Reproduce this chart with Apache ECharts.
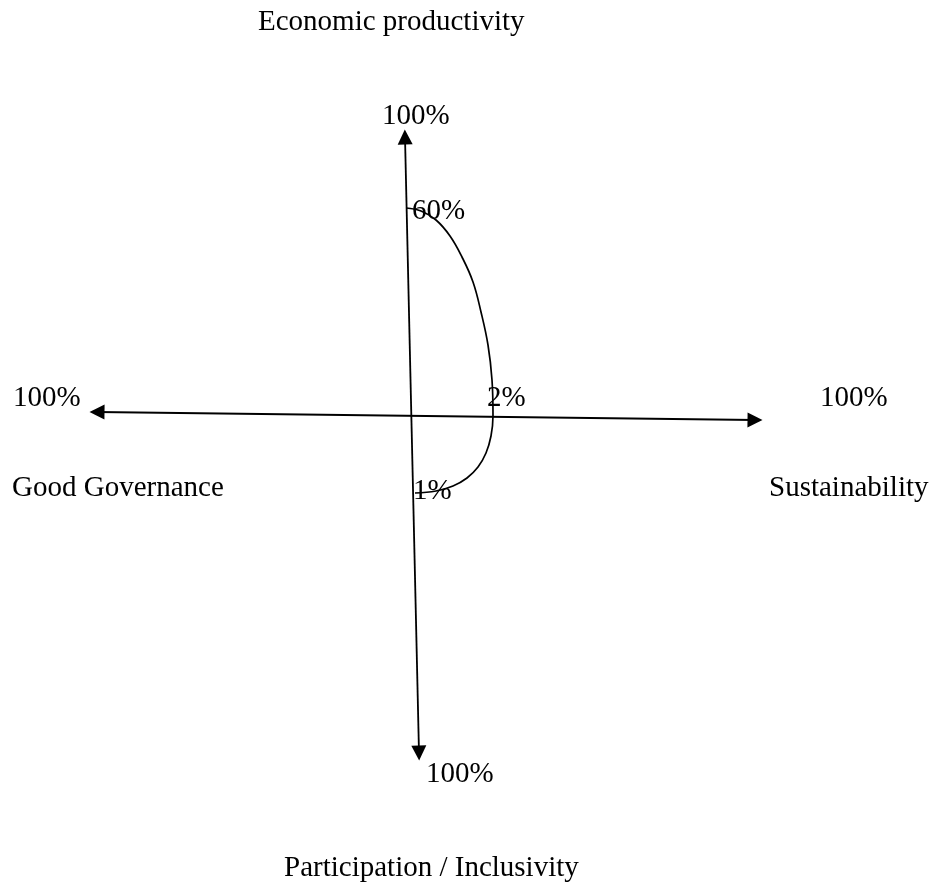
<!DOCTYPE html>
<html>
<head>
<meta charset="utf-8">
<script src="https://cdn.jsdelivr.net/npm/echarts@6/dist/echarts.min.js"></script>
<style>
html, body { margin: 0; padding: 0; background: #fff; }
#main { width: 936px; height: 888px; }
</style>
</head>
<body>
<div id="main"></div>
<script>
// the sketch lives in page pixels: x 0..936, y 0..888 (y down)
var axisNames = ['Economic productivity', 'Sustainability', 'Participation / Inclusivity', 'Good Governance'];
var axisEndLabels = ['100%', '100%', '100%', '100%'];
var curveLabels = ['60%', '2%', '1%'];

// two double headed axes
var verticalAxis = [[405, 137], [419, 753]];
var horizontalAxis = [[97, 412], [755, 420]];

// the hand drawn curve
var curvePath = [
    [406, 208], [421, 211], [436, 220], [450, 236], [462, 257],
    [473, 282], [481, 312], [488, 345], [492, 380], [493, 416],
    [491, 436], [486, 453], [478, 467], [467, 478], [453, 486],
    [436, 491], [415, 493]
];

var font = '"Liberation Serif", "Times New Roman", serif';

function label(text, x, y) {
    return {
        type: 'text',
        x: x,
        y: y,
        style: {
            text: text,
            fontFamily: font,
            fontSize: 29,
            fill: '#000',
            verticalAlign: 'middle'
        }
    };
}

var chart = echarts.init(document.getElementById('main'));
var option = {
    animation: false,
    backgroundColor: '#fff',
    grid: { left: 0, right: 0, top: 0, bottom: 0 },
    xAxis: { type: 'value', min: 0, max: 936, show: false },
    yAxis: { type: 'value', min: 0, max: 888, inverse: true, show: false },
    series: [
        {
            type: 'lines',
            coordinateSystem: 'cartesian2d',
            symbol: ['triangle', 'triangle'],
            symbolSize: [15, 15],
            lineStyle: { color: '#000', width: 1.8, opacity: 1 },
            data: [
                { coords: verticalAxis },
                { coords: horizontalAxis }
            ]
        },
        {
            type: 'line',
            data: curvePath,
            smooth: 0.4,
            showSymbol: false,
            lineStyle: { color: '#000', width: 1.7 }
        }
    ],
    graphic: [
        label(axisNames[0], 258, 22),
        label(axisEndLabels[0], 382, 116),
        label(curveLabels[0], 412, 211),
        label(axisEndLabels[3], 13, 398),
        label(curveLabels[1], 487, 398),
        label(axisEndLabels[1], 820, 398),
        label(axisNames[3], 12, 488),
        label(curveLabels[2], 413, 491),
        label(axisNames[1], 769, 488),
        label(axisEndLabels[2], 426, 774),
        label(axisNames[2], 284, 868)
    ]
};
chart.setOption(option);
</script>
</body>
</html>
